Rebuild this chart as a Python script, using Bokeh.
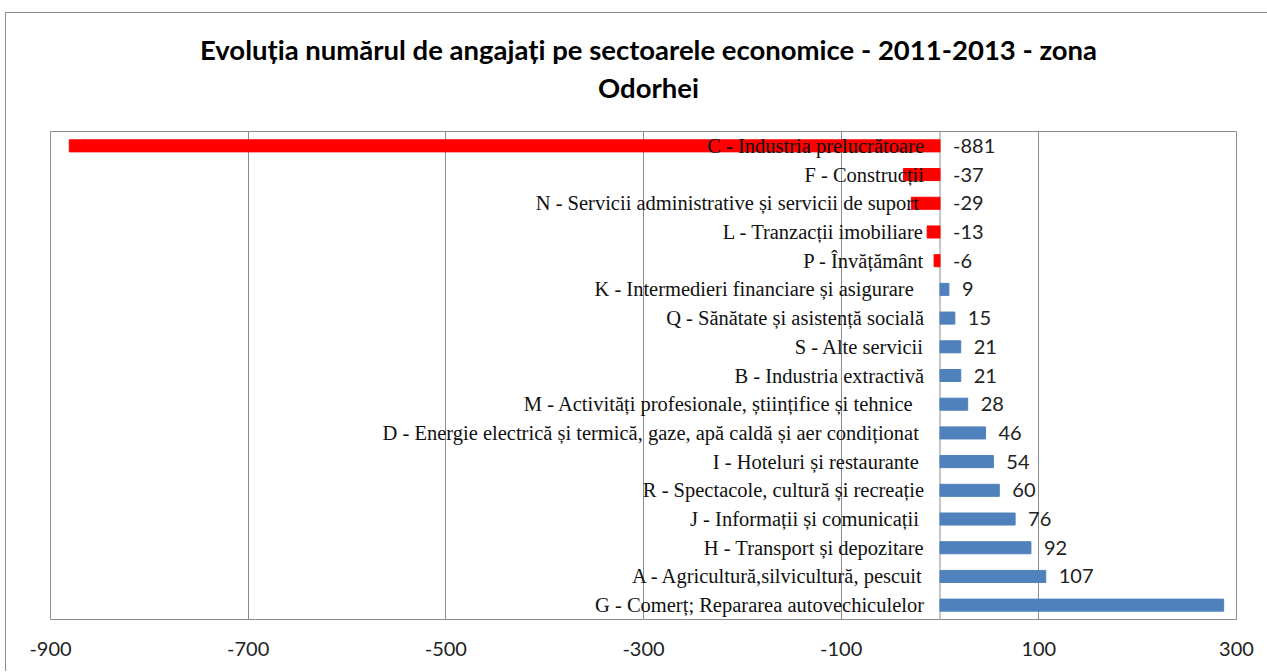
from bokeh.plotting import figure
from bokeh.models import ColumnDataSource, FactorRange, FixedTicker, Span, Div
from bokeh.layouts import column
from bokeh.core.properties import value
from bokeh.embed import file_html
from bokeh.resources import INLINE

categories = [
    "C - Industria prelucrătoare",
    "F - Construcții",
    "N - Servicii administrative  și servicii de suport",
    "L - Tranzacții imobiliare",
    "P - Învățământ",
    "K - Intermedieri  financiare  și asigurare",
    "Q - Sănătate și asistență socială",
    "S - Alte servicii",
    "B - Industria extractivă",
    "M - Activități  profesionale, științifice  și tehnice",
    "D - Energie  electrică și termică, gaze, apă caldă și aer condiționat",
    "I - Hoteluri  și restaurante",
    "R - Spectacole, cultură și recreație",
    "J - Informații  și comunicații",
    "H - Transport și depozitare",
    "A - Agricultură,silvicultură, pescuit",
    "G - Comerț; Repararea autovechiculelor",
]
values = [-881, -37, -29, -13, -6, 9, 15, 21, 21, 28, 46, 54, 60, 76, 92, 107, 287]
x_ticks = [-900, -700, -500, -300, -100, 100, 300]
title_lines = ["Evoluția numărul de angajați pe sectoarele economice - 2011-2013 - zona", "Odorhei"]

colors = ["#FF0000" if v < 0 else "#4F81BD" for v in values]
src = ColumnDataSource(dict(
    cat=categories, val=values, color=colors,
    lx=[max(v, 0) for v in values],
    ltxt=[str(v) for v in values],
    zero=[0] * len(values),
))

p = figure(
    width=1260, height=548,
    y_range=FactorRange(factors=list(reversed(categories)), range_padding=0),
    x_range=(-900, 300),
    output_backend="svg", toolbar_location=None,
    min_border_left=44, min_border_right=30, min_border_top=8, min_border_bottom=52,
)
p.outline_line_color = "#8c8c8c"
p.outline_line_width = 1

p.yaxis.visible = False
p.ygrid.grid_line_color = None
p.xgrid.grid_line_color = "#8c8c8c"
p.xgrid.ticker = FixedTicker(ticks=x_ticks)
p.xaxis.ticker = FixedTicker(ticks=x_ticks)
p.xaxis.major_label_overrides = {t: str(t) for t in x_ticks}
p.xaxis.axis_line_color = None
p.xaxis.major_tick_line_color = None
p.xaxis.minor_tick_line_color = None
p.xaxis.major_label_standoff = 16
p.xaxis.major_label_text_font = "Lato"
p.xaxis.major_label_text_font_size = "20px"
p.xaxis.major_label_text_color = "#222222"

p.add_layout(Span(location=0, dimension="height", line_color="#8c8c8c", line_width=1, level="underlay"))

p.hbar(y="cat", left="zero", right="val", height=0.42, fill_color="color", line_color="color", source=src)

p.text(x="zero", y="cat", text="cat", x_offset=-16, text_align="right", text_baseline="middle",
       text_font=value("Liberation Serif"), text_font_size="20.5px", text_color="#111111", source=src)
p.text(x="lx", y="cat", text="ltxt", x_offset=13, text_align="left", text_baseline="middle",
       text_font=value("Lato"), text_font_size="20px", text_color="#222222", source=src)

title_html = (
    '<div style="width:1260px;box-sizing:border-box;padding-left:15px;padding-top:13px;'
    'text-align:center;font-family:Lato;font-weight:bold;font-size:27.5px;line-height:38px;color:#000;">'
    + "<br>".join(title_lines) + "</div>"
)
title_div = Div(text=title_html, width=1260, height=100)

layout = column(title_div, p, spacing=0)
layout.styles = {"border-left": "1.5px solid #8c8c8c", "border-top": "1.5px solid #8c8c8c",
                 "margin-left": "5px", "margin-top": "12px"}

open("out.html", "w").write(file_html(layout, INLINE))
